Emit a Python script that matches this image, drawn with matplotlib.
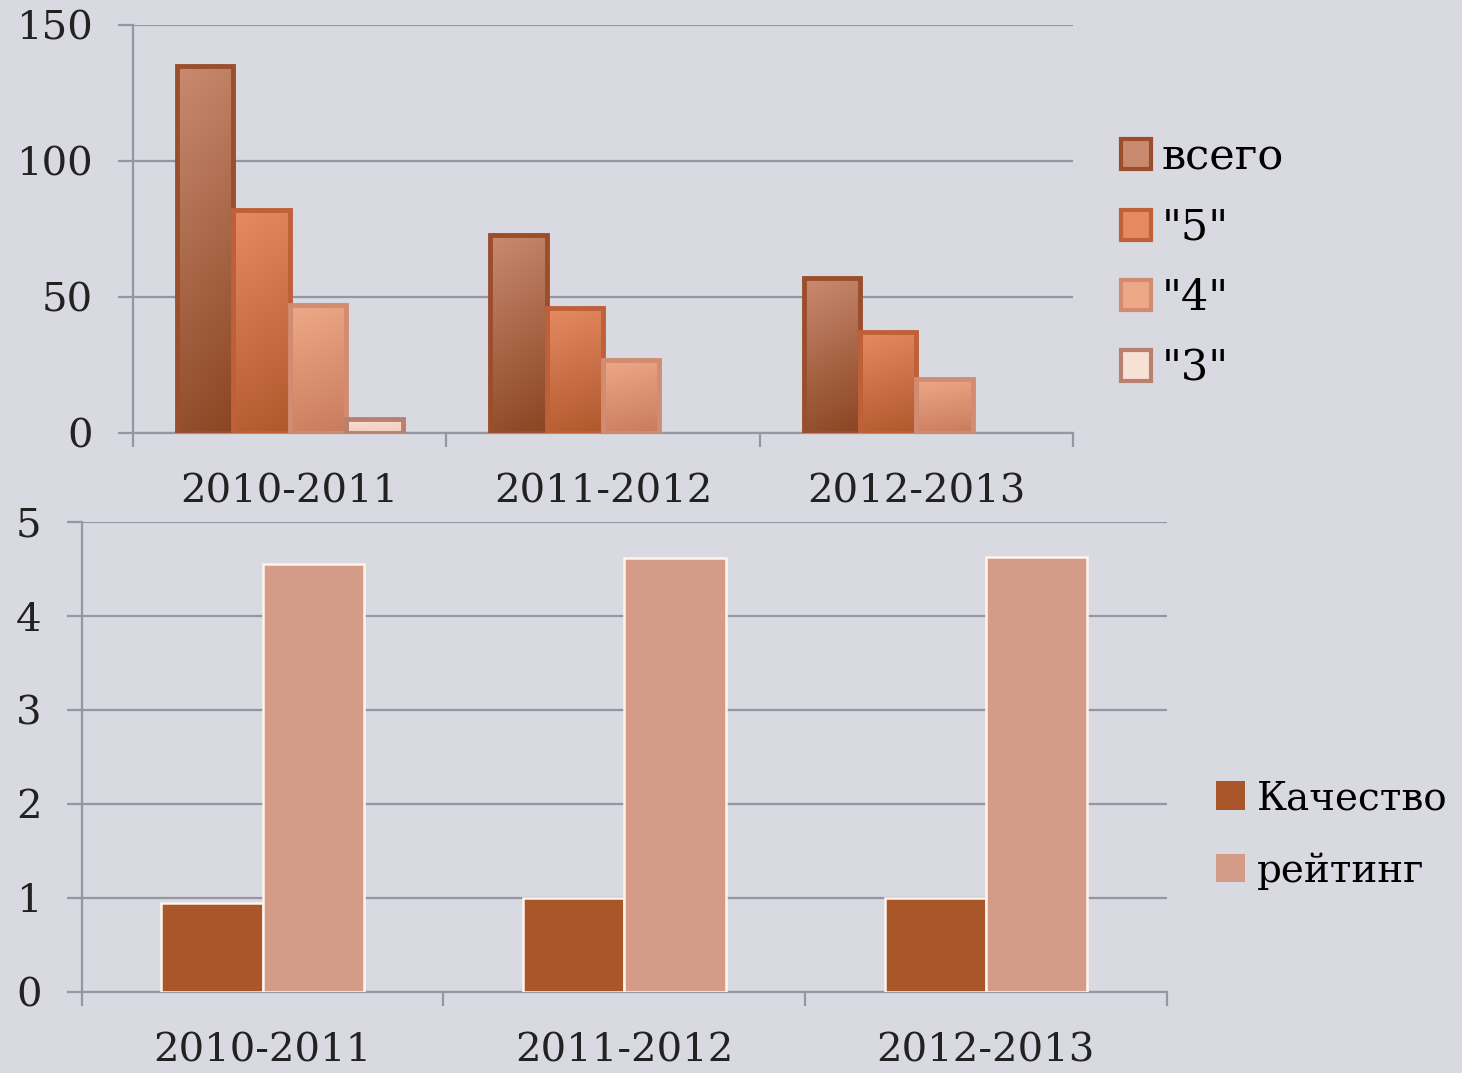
import matplotlib.pyplot as plt
import numpy as np
from matplotlib.colors import LinearSegmentedColormap
from matplotlib.patches import Patch

# data
seasons = ['2010-2011', '2011-2012', '2012-2013']
vsego = [135, 73, 57]
five = [82, 46, 37]
four = [47, 27, 20]
three = [5, 0, 0]
top_labels = ['всего', '"5"', '"4"', '"3"']

kachestvo = [0.95, 1.0, 1.0]
reyting = [4.55, 4.62, 4.63]
bottom_labels = ['Качество', 'рейтинг']

bg = '#d9d9e1'
grid_c = '#9696a2'
font = 'DejaVu Serif'
fs = 29

# (top colour, bottom colour, edge colour) for gradient bars
top_styles = [('#c98a70', '#8a4522', '#9a4e2c'),
              ('#e68a64', '#b0582c', '#bf6038'),
              ('#eea888', '#c87c5e', '#d28c72'),
              ('#f7e0d4', '#f0cdbc', '#b98070')]

plt.rcParams['font.family'] = [font, 'DejaVu Sans']

fig = plt.figure(figsize=(14.62, 10.73), dpi=100, facecolor=bg)


def style_axes(ax, ymax, yticks):
    ax.set_facecolor(bg)
    ax.set_xlim(-0.5, 2.5)
    ax.set_ylim(0, ymax)
    ax.set_yticks(yticks)
    ax.yaxis.grid(True, color=grid_c, lw=1.6)
    ax.set_axisbelow(True)
    for s in ['top', 'right']:
        ax.spines[s].set_visible(False)
    ax.spines['left'].set_color(grid_c)
    ax.spines['bottom'].set_color(grid_c)
    ax.spines['left'].set_linewidth(1.6)
    ax.spines['bottom'].set_linewidth(1.6)
    ax.set_xticks(range(len(seasons)))
    ax.set_xticklabels(seasons)
    ax.set_xticks([-0.5, 0.5, 1.5, 2.5], minor=True)
    ax.tick_params(axis='x', which='major', length=0, pad=29, labelsize=fs, colors='#222222')
    ax.tick_params(axis='x', which='minor', length=10, width=1.6, color=grid_c)
    ax.tick_params(axis='y', length=11, width=1.6, color=grid_c, pad=18, labelsize=fs, labelcolor='#222222')


# top chart with gradient bars
ax1 = fig.add_axes([0.091, 0.5965, 0.643, 0.380])
style_axes(ax1, 150, [0, 50, 100, 150])
x = np.arange(len(seasons))
w = 0.18
for k, vals in enumerate([vsego, five, four, three]):
    c_top, c_bot, c_edge = top_styles[k]
    cmap = LinearSegmentedColormap.from_list('g%d' % k, [c_bot, c_top])
    bars = ax1.bar(x + (k - 1.5) * w, vals, w, facecolor='none', edgecolor=c_edge,
                   linewidth=3.5, zorder=3)
    for rect, v in zip(bars, vals):
        if v == 0:
            rect.set_visible(False)
            continue
        rx, ry = rect.get_x(), rect.get_y()
        rw, rh = rect.get_width(), rect.get_height()
        yy, xx = np.mgrid[0:1:100j, 0:1:20j]
        grad = yy * 0.85 + (1 - xx) * 0.15
        im = ax1.imshow(grad, extent=[rx, rx + rw, ry, ry + rh], origin='lower',
                        cmap=cmap, vmin=0, vmax=1, aspect='auto', zorder=2)
        im.set_clip_path(rect)
ax1.set_xlim(-0.5, 2.5)
ax1.set_ylim(0, 150)

handles1 = [Patch(facecolor=top_styles[k][0], edgecolor=top_styles[k][2], linewidth=3)
            for k in range(4)]
fig.legend(handles1, top_labels, loc='center left', bbox_to_anchor=(0.74, 0.755),
           frameon=False, fontsize=31, handlelength=0.7, handleheight=0.7,
           handletextpad=0.25, labelspacing=0.66)

# bottom chart
ax2 = fig.add_axes([0.056, 0.0755, 0.742, 0.438])
style_axes(ax2, 5, [0, 1, 2, 3, 4, 5])
w2 = 0.28
c_k = '#a9572a'
c_r = '#d49c86'
ax2.bar(x - w2 / 2, kachestvo, w2, color=c_k, edgecolor='#fff4ee', linewidth=1.8, zorder=3)
ax2.bar(x + w2 / 2, reyting, w2, color=c_r, edgecolor='#fff4ee', linewidth=1.8, zorder=3)

handles2 = [Patch(facecolor=c_k), Patch(facecolor=c_r)]
fig.legend(handles2, bottom_labels, loc='center left', bbox_to_anchor=(0.816, 0.222),
           frameon=False, fontsize=28, handlelength=0.75, handleheight=0.75,
           handletextpad=0.3, labelspacing=0.9, borderpad=0.1)

fig.savefig('out.png', dpi=100, facecolor=bg)
